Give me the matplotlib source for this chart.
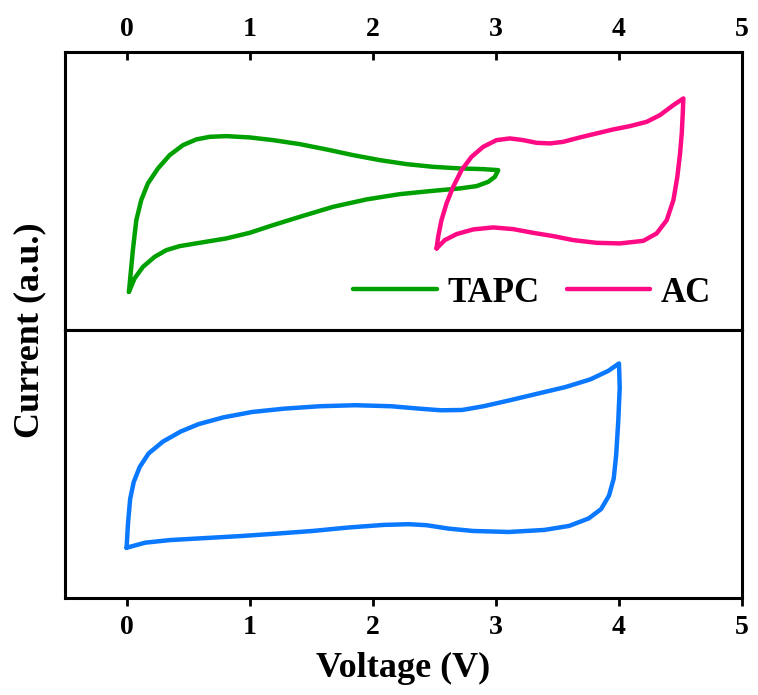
import numpy as np
import matplotlib.pyplot as plt

plt.rcParams["font.family"] = ["Liberation Serif", "DejaVu Serif"]
plt.rcParams["font.weight"] = "bold"

# TAPC loop (top panel)
tapc_v = [0.019, 0.051, 0.079, 0.119, 0.173, 0.255, 0.350, 0.458, 0.566, 0.675, 0.810, 1.000,
          1.190, 1.407, 1.623, 1.840, 2.057, 2.274, 2.490, 2.707, 2.897, 3.019,
          2.992, 2.938, 2.843, 2.707, 2.490, 2.220, 1.949, 1.677, 1.407, 1.190, 1.000,
          0.810, 0.593, 0.431, 0.323, 0.228, 0.133, 0.065, 0.019]
tapc_i = [0.383, 0.800, 1.100, 1.300, 1.467, 1.617, 1.750, 1.850, 1.907, 1.933, 1.940, 1.927,
          1.900, 1.860, 1.807, 1.750, 1.700, 1.660, 1.633, 1.617, 1.610, 1.600,
          1.533, 1.483, 1.440, 1.417, 1.393, 1.360, 1.307, 1.233, 1.133, 1.050, 0.973,
          0.917, 0.873, 0.840, 0.800, 0.733, 0.633, 0.517, 0.383]

# AC loop (top panel)
ac_v = [2.518, 2.531, 2.558, 2.599, 2.653, 2.721, 2.802, 2.897, 3.005, 3.114, 3.222, 3.331,
        3.439, 3.547, 3.683, 3.818, 3.954, 4.089, 4.225, 4.333, 4.442, 4.523,
        4.518, 4.510, 4.496, 4.474, 4.442, 4.388, 4.306, 4.198, 4.008, 3.818, 3.629,
        3.466, 3.303, 3.141, 2.978, 2.816, 2.680, 2.585, 2.518]
ac_i = [0.817, 0.933, 1.100, 1.267, 1.433, 1.600, 1.733, 1.833, 1.900, 1.917, 1.900, 1.873,
        1.867, 1.883, 1.927, 1.967, 2.007, 2.040, 2.083, 2.150, 2.250, 2.317,
        2.167, 1.967, 1.767, 1.533, 1.300, 1.100, 0.967, 0.893, 0.867, 0.873, 0.900,
        0.940, 0.973, 1.010, 1.027, 1.007, 0.960, 0.900, 0.817]

# full cell loop (bottom panel)
cell_v = [0.000, 0.012, 0.029, 0.058, 0.107, 0.179, 0.295, 0.440, 0.585, 0.787, 1.019, 1.279,
          1.569, 1.858, 2.148, 2.379, 2.553, 2.726, 2.900, 3.103, 3.334, 3.566, 3.768, 3.913,
          4.000, 4.006, 3.994, 3.977, 3.957, 3.919, 3.855, 3.754, 3.595, 3.392, 3.103, 2.813,
          2.611, 2.437, 2.292, 2.090, 1.800, 1.511, 1.221, 0.932, 0.643, 0.353, 0.151, 0.000]
cell_i = [0.497, 0.747, 0.980, 1.147, 1.297, 1.430, 1.547, 1.647, 1.720, 1.787, 1.840, 1.873,
          1.897, 1.907, 1.897, 1.873, 1.857, 1.860, 1.897, 1.953, 2.020, 2.087, 2.163, 2.247,
          2.320, 2.080, 1.747, 1.413, 1.180, 1.013, 0.880, 0.787, 0.713, 0.673, 0.653, 0.663,
          0.687, 0.720, 0.730, 0.723, 0.697, 0.663, 0.637, 0.613, 0.593, 0.573, 0.547, 0.497]

x_ticks = [0, 1, 2, 3, 4, 5]

fig = plt.figure(figsize=(7.58, 6.95), dpi=100)
ax1 = fig.add_axes([0.0858, 0.525, 0.8932, 0.40])
ax2 = fig.add_axes([0.0858, 0.1396, 0.8932, 0.3854])

style = dict(linewidth=3.2, solid_joinstyle="round", solid_capstyle="round")
ax1.plot(tapc_v, tapc_i, color="#00A000", label="TAPC", **style)
ax1.plot(ac_v, ac_i, color="#FF0A85", label="AC", **style)
ax2.plot(cell_v, cell_i, color="#0A78FF", **style)

for ax in (ax1, ax2):
    ax.set_xlim(-0.5, 5)
    ax.set_xticks(x_ticks)
    ax.set_yticks([])
    for s in ax.spines.values():
        s.set_linewidth(2.2)

ax1.set_ylim(0, 2.78)
ax2.set_ylim(0, 2.65)

ax1.xaxis.tick_top()
ax1.tick_params(axis="x", direction="in", length=6, width=2, labelsize=20, pad=7)
ax2.tick_params(axis="x", direction="out", length=6, width=2, labelsize=20, pad=6)
for lab in ax1.get_xticklabels() + ax2.get_xticklabels():
    lab.set_fontweight("bold")

ax2.set_xlabel("Voltage (V)", fontsize=26, fontweight="bold", labelpad=9)
fig.text(0.04, 0.525, "Current (a.u.)", rotation=90, fontsize=26, fontweight="bold",
         ha="center", va="center")

ax1.legend(loc="center", bbox_to_anchor=(0.69, 0.133), ncol=2, frameon=False,
           prop={"size": 25, "weight": "bold"}, handlelength=2.4, handletextpad=0.3,
           columnspacing=0.8, borderpad=0)

fig.savefig("out.png", dpi=100)
